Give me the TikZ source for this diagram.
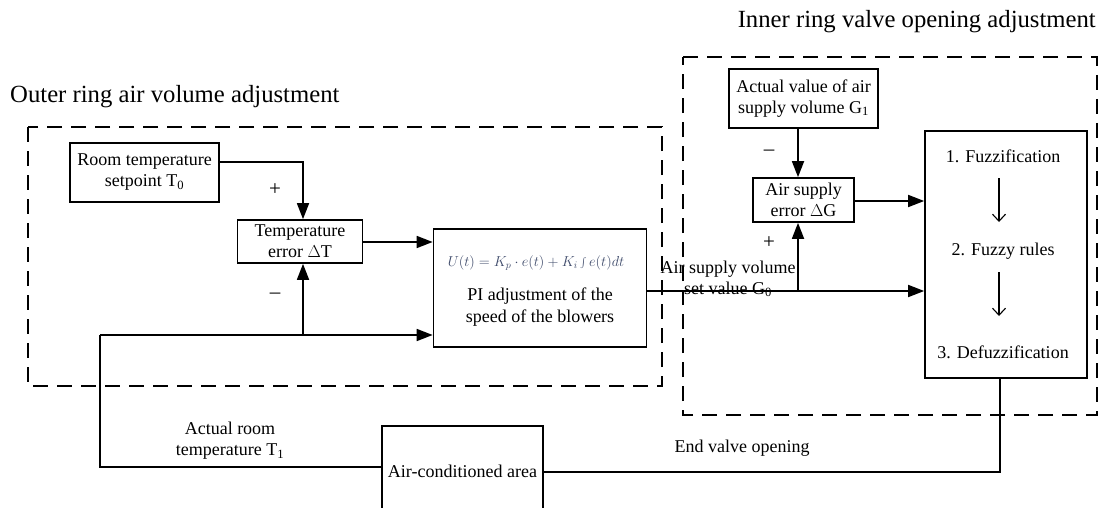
\documentclass[tikz,border=0pt]{standalone}
\usepackage{fontspec}
\setmainfont{Liberation Serif}
\usetikzlibrary{arrows.meta,calc}
\definecolor{formula}{HTML}{3E4A6A}
\begin{document}
\begin{tikzpicture}[x=1pt,y=-1pt,
  blk/.style={draw,line width=1.7pt,rectangle,align=center,font=\fontsize{18}{21}\selectfont,inner sep=0pt},
  conn/.style={line width=1.7pt},
  arr/.style={conn,-{Triangle[length=16pt,width=12pt]}},
  thinarr/.style={line width=1.1pt,-{Straight Barb[length=7pt,width=13pt]}},
  region/.style={draw,line width=1.7pt,dash pattern=on 15pt off 9pt},
  lbl/.style={font=\fontsize{18}{21}\selectfont,align=center,inner sep=0pt},
  sgn/.style={font=\fontsize{21}{24}\selectfont,inner sep=0pt},
  ttl/.style={font=\fontsize{24.7}{28}\selectfont,inner sep=0pt}]
\useasboundingbox (0,0) rectangle (1099,508);
% dashed regions
\draw[region] (28,127) rectangle (662,386);
\draw[region] (683,57) -- (1097,57) -- (1097,415) -- (683,415) -- cycle;
\node[ttl,anchor=west] (outerttl) at (10,97) {Outer ring air volume adjustment};
\node[ttl,anchor=east] (innerttl) at (1096,22) {Inner ring valve opening adjustment};
% blocks
\node[blk,minimum width=149pt,minimum height=59pt] (room) at (144.5,172.5) {Room temperature\\setpoint T\textsubscript{0}};
\node[blk,minimum width=125pt,minimum height=43pt] (dT) at (300,241.5) {Temperature\\error $\Delta$T};
\node[blk,minimum width=213pt,minimum height=118pt] (PI) at (540,288) {};
\node[inner sep=0pt,text=formula,font=\fontsize{14}{16}\selectfont] (formula) at (536,263) {$U(t)=K_p\cdot e(t)+K_i\int e(t)dt$};
\node[lbl,font=\fontsize{18}{22}\selectfont] (pitext) at (540,307) {PI adjustment of the\\speed of the blowers};
\node[blk,minimum width=149pt,minimum height=59pt] (G1) at (803.5,98.5) {Actual value of air\\supply volume G\textsubscript{1}};
\node[blk,minimum width=101pt,minimum height=44pt] (dG) at (803.5,200) {Air supply\\error $\Delta$G};
\node[blk,minimum width=162pt,minimum height=247pt] (fuzzy) at (1006,254.5) {};
\node[lbl] (f1) at (1003,156) {1. Fuzzification};
\node[lbl] (f2) at (1003,251) {2. Fuzzy rules};
\node[lbl] (f3) at (1003,352) {3. Defuzzification};
\node[blk,minimum width=161pt,minimum height=90pt] (ac) at (462.5,471) {Air-conditioned area};
% connectors
\coordinate (fb) at (100,335);
\coordinate (jT) at (303,335);
\coordinate (jG) at (798,291);
\coordinate (ev) at (1000,472);
\draw[arr] ($(room.north east)+(0,20)$) -| (dT.north -| jT);
\draw[arr] (dT.east |- 0,242) -- (PI.west |- 0,242);
\draw[conn] (ac.west |- 0,467) -| (fb);
\draw[arr] (fb) -- (PI.west |- fb);
\draw[arr] (jT) -- (dT.south -| jT);
\draw[arr] (PI.east |- jG) -- (fuzzy.west |- jG);
\draw[arr] (jG) -- (dG.south -| jG);
\draw[arr] (G1.south -| jG) -- (dG.north -| jG);
\draw[arr] (dG.east |- 0,201) -- (fuzzy.west |- 0,201);
\draw[conn] (fuzzy.south -| ev) -- (ev) -- (ac.east |- ev);
\draw[thinarr] (999,178) -- (999,222);
\draw[thinarr] (999,272) -- (999,316);
% labels
\node[sgn] (p1) at (275,190) {+};
\node[sgn] (m1) at (275,296) {–};
\node[sgn] (m2) at (769,153) {–};
\node[sgn] (p2) at (769,243) {+};
\node[lbl] (g0) at (728,279) {Air supply volume\\set value G\textsubscript{0}};
\node[lbl] (t1) at (230,441) {Actual room\\temperature T\textsubscript{1}};
\node[lbl] (evl) at (742,448) {End valve opening};
\end{tikzpicture}
\end{document}
